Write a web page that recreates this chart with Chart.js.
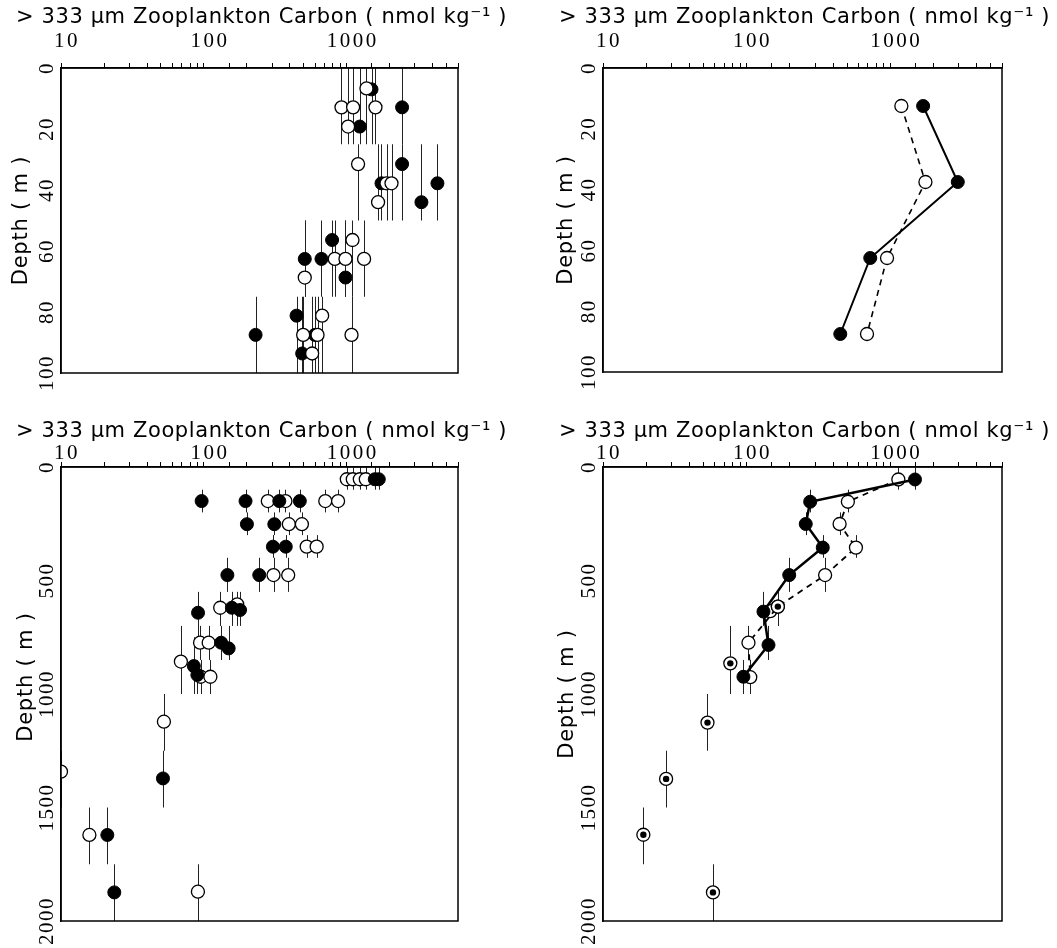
<!DOCTYPE html>
<html><head><meta charset="utf-8">
<script src="https://cdn.jsdelivr.net/npm/chart.js@4/dist/chart.umd.min.js"></script>
<style>
html,body{margin:0;padding:0;background:#fff;}
#wrap{position:relative;width:1057px;height:948px;background:#fff;}
.pan{position:absolute;}
</style></head><body>
<div id="wrap">
<div class="pan" style="left:0;top:0;width:530px;height:400px"><canvas id="c1"></canvas></div>
<div class="pan" style="left:530px;top:0;width:527px;height:400px"><canvas id="c2"></canvas></div>
<div class="pan" style="left:0;top:400px;width:530px;height:548px"><canvas id="c3"></canvas></div>
<div class="pan" style="left:530px;top:400px;width:527px;height:548px"><canvas id="c4"></canvas></div>
</div>
<script>
// ---------- axis labels ----------
const xTitle = '> 333 µm Zooplankton Carbon ( nmol kg⁻¹ )';
const yTitle = 'Depth ( m )';
const xTickLabels = [10, 100, 1000];
const shallowTicks = [0, 20, 40, 60, 80, 100];
const deepTicks = [0, 500, 1000, 1500, 2000];

// ---------- Panel A (top-left): individual tows, 0-100 m ----------
const aFilledC   = [1489, 2437, 1233, 2437, 1749, 4307, 3328, 789, 508, 665, 979, 445, 230, 598, 487];
const aFilledZ   = [7, 12.9, 19.2, 31.5, 37.8, 37.8, 44, 56.4, 62.6, 62.6, 68.7, 81.2, 87.5, 87.5, 93.6];
const aFilledTop = [0, 0, 0, 25, 25, 25, 25, 50, 50, 50, 50, 75, 75, 75, 75];
const aFilledBot = [25, 25, 25, 50, 50, 50, 50, 75, 75, 75, 75, 100, 100, 100, 100];
const aOpenC   = [1373, 918, 1107, 1587, 1021, 1199, 1896, 2055, 1655, 1096, 824, 979, 1321, 508, 672, 495, 624, 1079, 572];
const aOpenZ   = [6.7, 12.9, 12.9, 12.9, 19.2, 31.5, 37.8, 37.8, 44, 56.4, 62.6, 62.6, 62.6, 68.7, 81.2, 87.5, 87.5, 87.5, 93.6];
const aOpenTop = [0, 0, 0, 0, 0, 25, 25, 25, 25, 50, 50, 50, 50, 50, 75, 75, 75, 75, 75];
const aOpenBot = [25, 25, 25, 25, 25, 50, 50, 50, 50, 75, 75, 75, 75, 75, 100, 100, 100, 100, 100];

// ---------- Panel B (top-right): means, 0-100 m ----------
const bFilledC = [1694, 2953, 726, 449];
const bFilledZ = [12.5, 37.5, 62.5, 87.5];
const bOpenC   = [1195, 1758, 950, 689];
const bOpenZ   = [12.5, 37.5, 62.5, 87.5];

// ---------- Panel C (bottom-left): individual tows, 0-2000 m ----------
const cFilledC   = [1570, 1674, 96.4, 195.6, 337, 469, 200, 311, 304, 374, 146, 244, 157, 179, 91, 132, 149, 85, 90, 51.7, 21.1, 23.6];
const cFilledZ   = [54, 54, 150, 150, 150, 150, 252, 252, 351, 351, 476, 476, 620, 630, 642, 774, 799, 877, 916, 1372, 1621, 1874];
const cFilledTop = [0, 0, 100, 100, 100, 100, 200, 200, 300, 300, 400, 400, 550, 550, 550, 700, 700, 750, 850, 1250, 1500, 1750];
const cFilledBot = [100, 100, 200, 200, 200, 200, 300, 300, 400, 400, 550, 550, 700, 700, 750, 850, 850, 1000, 1000, 1500, 1750, 2000];
const cOpenC   = [1000, 1101, 1233, 1358, 280, 372, 707, 869, 393, 485, 524, 615, 307, 389, 130, 171, 94, 108, 69, 95, 111, 52.5, 10, 15.8, 90.8];
const cOpenZ   = [54, 54, 54, 54, 150, 150, 150, 150, 252, 252, 351, 351, 476, 476, 620, 605, 774, 774, 857, 924, 924, 1122, 1342, 1621, 1871];
const cOpenTop = [0, 0, 0, 0, 100, 100, 100, 100, 200, 200, 300, 300, 400, 400, 550, 550, 700, 700, 700, 850, 850, 1000, 1250, 1500, 1750];
const cOpenBot = [100, 100, 100, 100, 200, 200, 200, 200, 300, 300, 400, 400, 550, 550, 700, 700, 850, 850, 1000, 1000, 1000, 1250, 1500, 1750, 2000];

// ---------- Panel D (bottom-right): means, 0-2000 m ----------
const dFilledC   = [1487, 277, 258, 339, 198, 131, 142, 95];
const dFilledZ   = [55, 153, 251, 355, 476, 637, 784, 924];
const dFilledTop = [0, 100, 200, 300, 400, 550, 700, 850];
const dFilledBot = [100, 200, 300, 400, 550, 700, 850, 1000];
const dOpenC   = [1139, 507, 444, 577, 352, 165, 103, 106];
const dOpenZ   = [55, 153, 251, 355, 476, 615, 774, 926];
const dOpenTop = [0, 100, 200, 300, 400, 550, 700, 850];
const dOpenBot = [100, 200, 300, 400, 550, 700, 850, 1000];
const dExtraOpenC = [146];
const dExtraOpenZ = [635];
const dBothC   = [165, 77, 53.4, 27.5, 19.1, 58.3];
const dBothZ   = [615, 865, 1126, 1374, 1620, 1874];
const dBothTop = [550, 700, 1000, 1250, 1500, 1750];
const dBothBot = [700, 1000, 1250, 1500, 1750, 2000];

// ---------- helpers ----------
const pts = (c, z) => c.map((v, i) => ({x: v, y: z[i]}));
const SERIF = 'Liberation Serif';
const SANS = 'DejaVu Sans';

const spacingPlugin = {
  id: 'spacing',
  beforeDraw(chart) { chart.ctx.letterSpacing = '2.5px'; }
};
const errorBars = {
  id: 'errorBars',
  beforeDatasetsDraw(chart) {
    const {ctx, chartArea: a, scales: {x, y}} = chart;
    ctx.save();
    ctx.beginPath(); ctx.rect(a.left, a.top, a.right - a.left, a.bottom - a.top); ctx.clip();
    ctx.strokeStyle = '#222'; ctx.lineWidth = 1;
    chart.data.datasets.forEach(ds => {
      if (!ds.zTop) return;
      ds.data.forEach((p, i) => {
        const px = Math.round(x.getPixelForValue(p.x)) + 0.5;
        ctx.beginPath();
        ctx.moveTo(px, y.getPixelForValue(ds.zTop[i]));
        ctx.lineTo(px, y.getPixelForValue(ds.zBot[i]));
        ctx.stroke();
      });
    });
    ctx.restore();
  }
};
const framePlugin = {
  id: 'frame',
  afterDraw(chart) {
    const {ctx, chartArea: a} = chart;
    ctx.save();
    ctx.strokeStyle = '#000'; ctx.lineWidth = 1.5;
    ctx.strokeRect(a.left, a.top, a.right - a.left, a.bottom - a.top);
    ctx.restore();
  }
};
const labelPlugin = {
  id: 'axisText',
  afterDraw(chart, args, opts) {
    const {ctx, chartArea: a, scales: {y}} = chart;
    ctx.save();
    ctx.fillStyle = '#000';
    ctx.textAlign = 'center'; ctx.textBaseline = 'middle';
    // x-axis title (top)
    ctx.letterSpacing = '0.6px';
    ctx.font = '21px "' + SANS + '"';
    ctx.fillText(opts.xTitle, (a.left + a.right) / 2 + 2, opts.xTitleY);
    // rotated y tick labels
    ctx.letterSpacing = '1.5px';
    ctx.font = '21px "' + SERIF + '"';
    opts.ticks.forEach(t => {
      const py = y.getPixelForValue(t);
      ctx.save();
      ctx.translate(a.left - opts.gap, py);
      ctx.rotate(-Math.PI / 2);
      ctx.fillText(String(t), 0, 0);
      ctx.restore();
    });
    // rotated y-axis title
    ctx.letterSpacing = '0.8px';
    ctx.font = '21px "' + SANS + '"';
    ctx.save();
    ctx.translate(opts.titleX, (a.top + a.bottom) / 2 + opts.titleDy);
    ctx.rotate(-Math.PI / 2);
    ctx.fillText(opts.title, 0, 0);
    ctx.restore();
    ctx.restore();
  }
};

function makeChart(id, cfg) {
  const W = cfg.W, H = cfg.H, A = cfg.area;
  return new Chart(document.getElementById(id), {
    type: 'scatter',
    data: {datasets: cfg.datasets},
    plugins: [spacingPlugin, errorBars, framePlugin, labelPlugin],
    options: {
      responsive: true, maintainAspectRatio: false, animation: false,
      layout: {padding: {left: 0, top: 0, right: W - A.right, bottom: H - A.bottom}},
      plugins: {legend: {display: false}, tooltip: {enabled: false},
        axisText: {ticks: cfg.yTicks, gap: 14, title: yTitle, titleX: cfg.yTitleX, titleDy: cfg.yTitleDy,
          xTitle: xTitle, xTitleY: cfg.xTitleY}},
      scales: {
        x: {
          type: 'logarithmic', position: 'top', min: 10, max: 6000,
          ticks: {autoSkip: false, maxRotation: 0, minRotation: 0, padding: cfg.xPad, labelOffset: 6,
            font: {family: SERIF, size: 21}, color: '#000',
            callback: v => xTickLabels.includes(v) ? String(v) : ''},
          grid: {drawOnChartArea: false, drawTicks: true, tickLength: 5, color: '#000', lineWidth: 1},
          border: {display: true, color: '#000', width: 1.5},
          title: {display: false},
          afterFit: s => { s.height = A.top; }
        },
        y: {
          type: 'linear', position: 'left', reverse: true, min: 0, max: cfg.yMax,
          ticks: {display: false, stepSize: cfg.yMax / (cfg.yTicks.length - 1)},
          grid: {display: false, drawTicks: false},
          border: {display: true, color: '#000', width: 1.5},
          title: {display: false},
          afterFit: s => { s.width = A.left; }
        }
      }
    }
  });
}

const openStyle = {pointStyle: 'circle', pointRadius: 6.5, pointBackgroundColor: '#fff', pointBorderColor: '#000', pointBorderWidth: 1.3, borderColor: '#000'};
const fillStyle = {pointStyle: 'circle', pointRadius: 6.5, pointBackgroundColor: '#000', pointBorderColor: '#000', pointBorderWidth: 1, borderColor: '#000'};

// Panel A
makeChart('c1', {
  W: 530, H: 400, area: {left: 61, top: 68, right: 458, bottom: 373},
  yMax: 100, yTicks: shallowTicks, xPad: 9, xTitleY: 18, yTitleX: 22, yTitleDy: 0,
  datasets: [
    Object.assign({label: 'open', data: pts(aOpenC, aOpenZ), zTop: aOpenTop, zBot: aOpenBot, order: 1}, openStyle),
    Object.assign({label: 'filled', data: pts(aFilledC, aFilledZ), zTop: aFilledTop, zBot: aFilledBot, order: 2}, fillStyle)
  ]
});
// Panel B
makeChart('c2', {
  W: 527, H: 400, area: {left: 73, top: 68, right: 472, bottom: 372},
  yMax: 100, yTicks: shallowTicks, xPad: 9, xTitleY: 18, yTitleX: 37, yTitleDy: 0,
  datasets: [
    Object.assign({label: 'filled', data: pts(bFilledC, bFilledZ), showLine: true, borderWidth: 2, order: 1}, fillStyle),
    Object.assign({label: 'open', data: pts(bOpenC, bOpenZ), showLine: true, borderWidth: 1.6, borderDash: [6, 5], order: 2}, openStyle)
  ]
});
// Panel C
makeChart('c3', {
  W: 530, H: 548, area: {left: 61, top: 67, right: 458, bottom: 521},
  yMax: 2000, yTicks: deepTicks, xPad: -4, xTitleY: 32, yTitleX: 27, yTitleDy: -17,
  datasets: [
    Object.assign({label: 'open', data: pts(cOpenC, cOpenZ), zTop: cOpenTop, zBot: cOpenBot, order: 2}, openStyle),
    Object.assign({label: 'filled', data: pts(cFilledC, cFilledZ), zTop: cFilledTop, zBot: cFilledBot, order: 1}, fillStyle)
  ]
});
// Panel D
makeChart('c4', {
  W: 527, H: 548, area: {left: 73, top: 67, right: 472, bottom: 521},
  yMax: 2000, yTicks: deepTicks, xPad: -4, xTitleY: 32, yTitleX: 38, yTitleDy: 0,
  datasets: [
    {label: 'both-dot', data: pts(dBothC, dBothZ), pointStyle: 'circle', pointRadius: 3.2, pointBackgroundColor: '#000', pointBorderColor: '#000', pointBorderWidth: 0, order: 0},
    Object.assign({label: 'both', data: pts(dBothC, dBothZ), zTop: dBothTop, zBot: dBothBot, order: 1}, openStyle),
    Object.assign({label: 'filled', data: pts(dFilledC, dFilledZ), zTop: dFilledTop, zBot: dFilledBot, showLine: true, borderWidth: 2.5, order: 2}, fillStyle),
    Object.assign({label: 'open', data: pts(dOpenC, dOpenZ), zTop: dOpenTop, zBot: dOpenBot, showLine: true, borderWidth: 1.8, borderDash: [6, 5], order: 3}, openStyle),
    Object.assign({label: 'open-extra', data: pts(dExtraOpenC, dExtraOpenZ), order: 4}, openStyle)
  ]
});
</script>
</body></html>
